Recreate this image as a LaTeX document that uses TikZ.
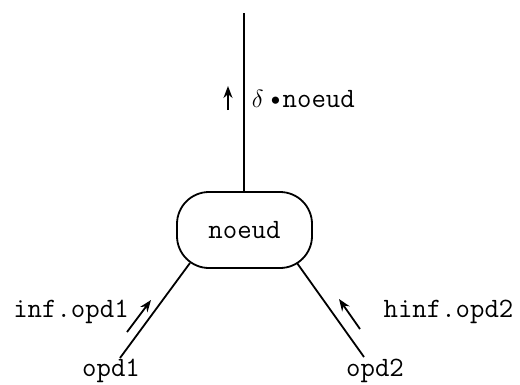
\documentclass[tikz,border=0pt]{standalone}
\usetikzlibrary{arrows.meta}
\begin{document}
\begin{tikzpicture}[x=1pt,y=-1pt,
  line width=1.8pt,
  lbl/.style={font=\ttfamily\fontsize{28}{32}\selectfont, inner sep=0pt},
  nodebox/.style={draw, rounded corners=32pt, minimum width=135pt, minimum height=76pt, lbl},
  flow/.style={-{Stealth[length=12pt,width=9pt]}, line width=1.8pt}]
\useasboundingbox (0,0) rectangle (520,384);
\node[nodebox] (n) at (244.5,230) {noeud};
\coordinate (top) at (244,13);
\coordinate (ntop) at (244,192);
\draw (top) -- (ntop);
\coordinate (l1) at (190,263);
\coordinate (l2) at (120,358);
\draw (l1) -- (l2);
\coordinate (r1) at (297,263);
\coordinate (r2) at (364,357);
\draw (r1) -- (r2);
% small flow arrows
\coordinate (ua) at (228,110);
\coordinate (ub) at (228,86);
\draw[flow] (ua) -- (ub);
\coordinate (la) at (127,332);
\coordinate (lb) at (151,300);
\draw[flow] (la) -- (lb);
\coordinate (ra) at (360,329);
\coordinate (rb) at (339,299);
\draw[flow] (ra) -- (rb);
% labels
\node[lbl, anchor=base west] (dl) at (251,107) {$\delta$\,\textbullet noeud};
\node[lbl, anchor=base] (il) at (71,317) {inf.opd1};
\node[lbl, anchor=base] (hl) at (448.5,317) {hinf.opd2};
\node[lbl, anchor=base] (o1) at (111,376) {opd1};
\node[lbl, anchor=base] (o2) at (375,376) {opd2};
\end{tikzpicture}
\end{document}
